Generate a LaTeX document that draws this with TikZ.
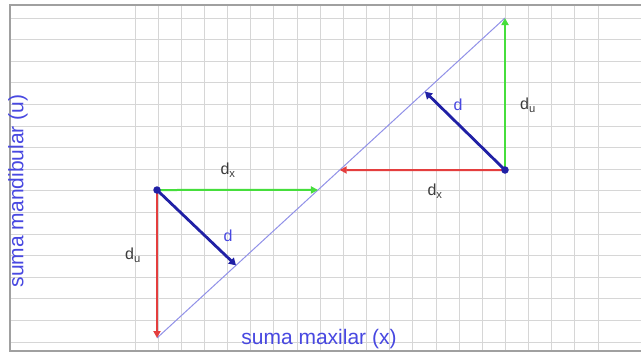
\documentclass[tikz,border=0pt]{standalone}
\usepackage{fontspec}
\setmainfont{Liberation Sans}
\usetikzlibrary{calc,positioning,arrows.meta}

\definecolor{gridgray}{RGB}{214,214,214}
\definecolor{framegray}{RGB}{160,160,160}
\definecolor{linelilac}{RGB}{145,145,232}
\definecolor{vecred}{RGB}{228,62,62}
\definecolor{vecgreen}{RGB}{70,222,60}
\definecolor{dblue}{RGB}{32,32,165}
\definecolor{textblue}{RGB}{72,72,225}
\definecolor{textgray}{RGB}{60,60,60}

\begin{document}
\begin{tikzpicture}[x=1pt, y=-1pt,
    gridline/.style={gridgray, line width=0.9pt},
    frameline/.style={framegray, line width=1.8pt},
    diagline/.style={linelilac, line width=1pt},
    redvec/.style={-{Triangle[length=7pt, width=7pt]}, vecred, line width=2pt},
    greenvec/.style={-{Triangle[length=7pt, width=7pt]}, vecgreen, line width=2pt},
    dvec/.style={-{Triangle[length=7pt, width=8pt]}, dblue, line width=2.8pt},
    dot/.style={circle, fill=dblue, inner sep=0pt, minimum size=7.5pt},
    deltalabel/.style={text=textgray, font=\fontsize{16}{18}\selectfont},
    dlabel/.style={text=textblue, font=\fontsize{16}{18}\selectfont},
    axislabel/.style={text=textblue, font=\fontsize{21}{24}\selectfont}
]
    \useasboundingbox (0,0) rectangle (641,354);
    \fill[white] (0,0) rectangle (641,354);

    % Grid
    \foreach \k in {0,...,15}
        \draw[gridline] (10,{18+21.6*\k}) -- (641,{18+21.6*\k});
    \foreach \k in {0,...,20}
        \draw[gridline] ({135+23.15*\k},5) -- ({135+23.15*\k},351);
    \draw[frameline] (641,5) -- (10,5) -- (10,351) -- (641,351);

    % Diagonal line and points
    \coordinate (lineLo) at (157,338);
    \coordinate (lineHi) at (505,18);
    \coordinate (ptA) at (157,190);
    \coordinate (ptB) at (505,170);
    \coordinate (dxA) at ($(lineLo)!0.4626!(lineHi)$);
    \coordinate (dxB) at ($(lineLo)!0.525!(lineHi)$);
    \coordinate (footA) at ($(lineLo)!0.227!(lineHi)$);
    \coordinate (footB) at ($(lineLo)!0.77!(lineHi)$);

    \draw[diagline] (lineLo) -- (lineHi);

    % Left triangle
    \draw[redvec] (ptA) -- (lineLo);
    \draw[greenvec] (ptA) -- (dxA);
    \draw[dvec] (ptA) -- (footA);
    \node[dot] (dotA) at (ptA) {};

    % Right triangle
    \draw[redvec] (ptB) -- (dxB);
    \draw[greenvec] (ptB) -- (lineHi);
    \draw[dvec] (ptB) -- (footB);
    \node[dot] (dotB) at (ptB) {};

    % Labels
    \node[deltalabel] (dxlabA) at (228,170) {d\textsubscript{x}};
    \node[deltalabel] (dulabA) at (133,255) {d\textsubscript{u}};
    \node[dlabel] (dlabA) at (228,236) {d};
    \node[dlabel] (dlabB) at (458,105) {d};
    \node[deltalabel] (dulabB) at (528,105) {d\textsubscript{u}};
    \node[deltalabel] (dxlabB) at (435,191) {d\textsubscript{x}};

    \node[axislabel] (xlabel) at (319,339) {suma maxilar (x)};
    \node[axislabel, rotate=90] (ulabel) at (18,191) {suma mandibular (u)};
\end{tikzpicture}
\end{document}
